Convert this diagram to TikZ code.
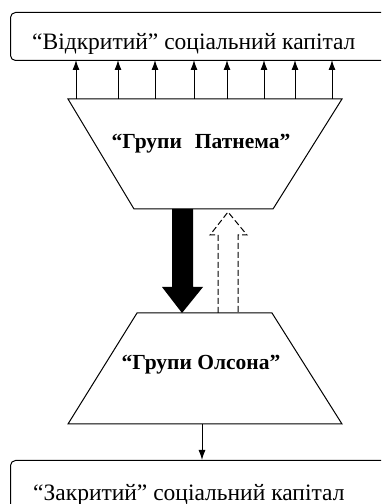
\documentclass[tikz,border=0pt]{standalone}
\usepackage{fontspec}
\setmainfont{Liberation Serif}
\usetikzlibrary{arrows.meta}
\tikzset{
  capbox/.style={draw, line width=1pt, rounded corners=5pt, inner sep=0pt},
  captext/.style={font=\fontsize{23.5}{25}\selectfont, inner sep=0pt, anchor=base west},
  grouptext/.style={font=\bfseries\fontsize{21.5}{23}\selectfont, inner sep=0pt},
  trap/.style={draw, line width=1pt, line join=miter},
  uparrow/.style={line width=1pt, -{Latex[length=10pt,width=7pt]}},
}
\begin{document}
\begin{tikzpicture}[x=1pt,y=1pt]
\useasboundingbox (0,0) rectangle (381,504);
\clip (0,0) rectangle (381,504);
% top box
\node[capbox, minimum width=390pt, minimum height=48pt, anchor=north west] (openbox) at (10,492) {};
\node[captext] (opentext) at (32,454) {“Відкритий” соціальний капітал};
% top trapezoid
\coordinate (tA) at (68,405);
\coordinate (tB) at (342,405);
\coordinate (tC) at (273,295);
\coordinate (tD) at (134,295);
\draw[trap] (tA) -- (tB) -- (tC) -- (tD) -- cycle;
\node[grouptext] (putnam) at (201,360) {“Групи\hspace{13pt}Патнема”};
% arrows up
\foreach \x [count=\i] in {76,118,155,194,227,264,295,332}{
  \coordinate (ua\i) at (\x,405);
  \coordinate (ub\i) at (\x,444);
  \draw[uparrow] (ua\i) -- (ub\i);
}
% black arrow down
\coordinate (bk1) at (172,295);
\coordinate (bk2) at (193,295);
\coordinate (bk3) at (193,217);
\coordinate (bk4) at (203,217);
\coordinate (bk5) at (182,191);
\coordinate (bk6) at (162,217);
\coordinate (bk7) at (172,217);
\fill[black] (bk1) -- (bk2) -- (bk3) -- (bk4) -- (bk5) -- (bk6) -- (bk7) -- cycle;
% dashed arrow up
\coordinate (dk1) at (218,191);
\coordinate (dk2) at (218,269);
\coordinate (dk3) at (210,269);
\coordinate (dk4) at (228,292);
\coordinate (dk5) at (247,269);
\coordinate (dk6) at (238,269);
\coordinate (dk7) at (238,191);
\draw[line width=1pt, dash pattern=on 6pt off 3pt] (dk1) -- (dk2) -- (dk3) -- (dk4) -- (dk5) -- (dk6) -- (dk7);
% bottom trapezoid
\coordinate (bA) at (137,191);
\coordinate (bB) at (272,191);
\coordinate (bC) at (342,80);
\coordinate (bD) at (68,80);
\draw[trap] (bA) -- (bB) -- (bC) -- (bD) -- cycle;
\node[grouptext] (olson) at (201,139) {“Групи Олсона”};
% bottom box
\node[capbox, minimum width=390pt, minimum height=60pt, anchor=north west] (closedbox) at (10,44) {};
\node[captext] (closedtext) at (33,4) {“Закритий” соціальний капітал};
\coordinate (dn1) at (202,80);
\draw[line width=1pt, -{Latex[length=10pt,width=7pt]}] (dn1) -- (closedbox.north -| dn1);
\end{tikzpicture}
\end{document}
